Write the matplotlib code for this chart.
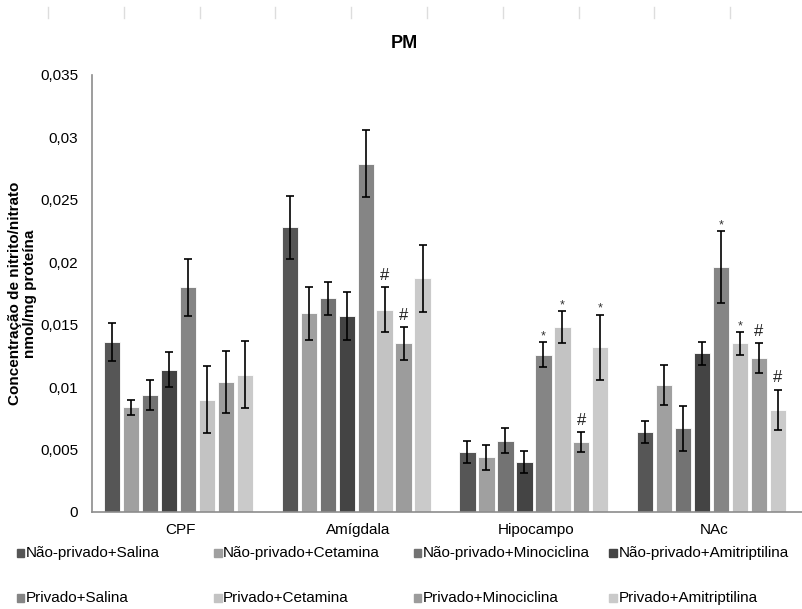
import numpy as np
import matplotlib
matplotlib.use("Agg")
import matplotlib.pyplot as plt
from matplotlib.patches import Rectangle
from matplotlib.lines import Line2D

# ── data ──────────────────────────────────────────────────────────────
regions = ["CPF", "Amígdala", "Hipocampo", "NAc"]
groups = ["Não-privado+Salina", "Não-privado+Cetamina",
          "Não-privado+Minociclina", "Não-privado+Amitriptilina",
          "Privado+Salina", "Privado+Cetamina",
          "Privado+Minociclina", "Privado+Amitriptilina"]
colors = ["#565656", "#a0a0a0", "#737373", "#444444",
          "#858585", "#c3c3c3", "#9c9c9c", "#cacaca"]

# mean per group (rows) x region (cols)
means = [
    [0.0136, 0.0228, 0.0048, 0.0064],
    [0.0084, 0.0159, 0.0044, 0.0102],
    [0.0094, 0.0171, 0.0057, 0.0067],
    [0.0114, 0.0157, 0.0040, 0.0127],
    [0.0180, 0.0279, 0.0126, 0.0196],
    [0.0090, 0.0162, 0.0148, 0.0135],
    [0.0104, 0.0135, 0.0056, 0.0123],
    [0.0110, 0.0187, 0.0132, 0.0082],
]
errors = [
    [0.0015, 0.0025, 0.0009, 0.0009],
    [0.0006, 0.0021, 0.0010, 0.0016],
    [0.0012, 0.0013, 0.0010, 0.0018],
    [0.0014, 0.0019, 0.0009, 0.0009],
    [0.0023, 0.0027, 0.0010, 0.0029],
    [0.0027, 0.0018, 0.0013, 0.0009],
    [0.0025, 0.0013, 0.0008, 0.0012],
    [0.0027, 0.0027, 0.0026, 0.0016],
]
marks = [
    ["", "", "", ""],
    ["", "", "", ""],
    ["", "", "", ""],
    ["", "", "", ""],
    ["", "", "*", "*"],
    ["", "#", "*", "*"],
    ["", "#", "#", "#"],
    ["", "", "*", "#"],
]
yticks = [0, 0.005, 0.01, 0.015, 0.02, 0.025, 0.03, 0.035]
ytick_labels = ["0", "0,005", "0,01", "0,015", "0,02", "0,025", "0,03", "0,035"]

# ── figure ────────────────────────────────────────────────────────────
plt.rcParams["font.family"] = ["Liberation Sans Narrow", "Liberation Sans", "DejaVu Sans"]
fig = plt.figure(figsize=(8.03, 6.09), dpi=100)
ax = fig.add_axes([0.1146, 0.1593, 0.885, 0.7176])

x = np.arange(len(regions))
slot = 0.1068
width = 0.092
for i, g in enumerate(groups):
    pos = x + (i - 3.5) * slot - 0.013
    ax.bar(pos, means[i], width=width, color=colors[i], edgecolor="white",
           linewidth=0.6, zorder=2)
    ax.errorbar(pos, means[i], yerr=errors[i], fmt="none", ecolor="black",
                elinewidth=1.2, capsize=2.6, capthick=1.2, zorder=3)
    for j, m in enumerate(marks[i]):
        if m:
            top = means[i][j] + errors[i][j]
            if m == "*":
                ax.annotate(m, (pos[j], top), xytext=(0, 0),
                            textcoords="offset points", ha="center",
                            va="bottom", fontsize=9, color="#333333")
            else:
                ax.annotate(m, (pos[j], top), xytext=(0, 3),
                            textcoords="offset points", ha="center",
                            va="bottom", fontsize=12, color="#222222")

ax.set_xlim(-0.5, len(regions) - 0.5)
ax.set_ylim(0, 0.035)
ax.set_yticks(yticks)
ax.set_yticklabels(ytick_labels, fontsize=11)
ax.set_xticks(x)
ax.set_xticklabels(regions, fontsize=11)
ax.tick_params(axis="both", length=0, pad=8)
ax.tick_params(axis="y", pad=10)
for s in ["top", "right"]:
    ax.spines[s].set_visible(False)
for s in ["left", "bottom"]:
    ax.spines[s].set_color("#8c8c8c")
    ax.spines[s].set_linewidth(1.2)

fig.text(0.504, 0.928, "PM", ha="center", va="center", fontsize=13,
         fontweight="bold", family=["Liberation Sans", "DejaVu Sans"])
fig.text(0.028, 0.518, "Concentração de nitrito/nitrato\nnmol/mg proteína",
         rotation=90, ha="center", va="center", fontsize=11,
         fontweight="bold", linespacing=1.1,
         family=["Liberation Sans", "DejaVu Sans"])

# legend drawn manually, 4 columns x 2 rows
col_x = [0.021, 0.267, 0.515, 0.759]
row_y = [0.092, 0.018]
for i, (g, c) in enumerate(zip(groups, colors)):
    cx = col_x[i % 4]
    cy = row_y[i // 4]
    fig.add_artist(Rectangle((cx, cy - 0.006), 0.009, 0.012,
                             transform=fig.transFigure, color=c))
    fig.text(cx + 0.011, cy, g, ha="left", va="center", fontsize=11)

# faint marks at top edge
for k in range(10):
    xf = (48 + k * 75.8) / 803
    fig.add_artist(Line2D([xf, xf], [1 - 7 / 609, 1 - 18 / 609],
                          transform=fig.transFigure, color="#dddddd",
                          linewidth=1))

fig.savefig("out.png", dpi=100)
